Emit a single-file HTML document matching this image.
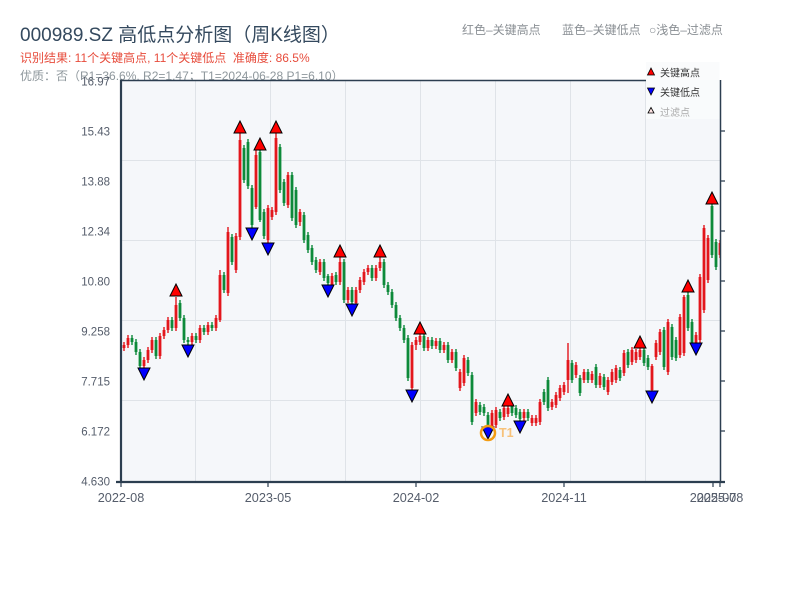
<!DOCTYPE html>
<html><head><meta charset="utf-8"><style>
html,body{margin:0;padding:0;background:#fff;}
svg{display:block;}
text{font-family:"Liberation Sans","Noto Sans CJK SC",sans-serif;}
</style></head><body>
<svg width="800" height="600" viewBox="0 0 800 600" xmlns="http://www.w3.org/2000/svg">
<rect x="0" y="0" width="800" height="600" fill="#fff"/>
<text x="20" y="41" font-size="19" fill="#34495e">000989.SZ 高低点分析图（周K线图）</text>
<text x="20" y="62" font-size="12" fill="#e74c3c">识别结果: 11个关键高点, 11个关键低点&#160;&#160;准确度: 86.5%</text>
<text x="20" y="80" font-size="12" fill="#8e979c">优质：否（R1=36.6%, R2=1.47；T1=2024-06-28 P1=6.10）</text>
<text x="462" y="34" font-size="12" fill="#8a8f94">红色–关键高点</text>
<text x="562" y="34" font-size="12" fill="#8a8f94">蓝色–关键低点</text>
<text x="649" y="34" font-size="12" fill="#8a8f94">○浅色–过滤点</text>

<rect x="121" y="80" width="599" height="402" fill="#f5f7fa"/>
<g stroke="#dfe3e8" stroke-width="1">
<path d="M195.5 80V482M270.5 80V482M345.5 80V482M420.5 80V482M495.5 80V482M570.5 80V482M645.5 80V482"/>
<path d="M121 160.5H720M121 240.5H720M121 320.5H720M121 400.5H720"/>
</g>

<defs><clipPath id="pc"><rect x="122" y="80" width="598" height="401"/></clipPath></defs>
<g clip-path="url(#pc)">
<g transform="translate(2,0)">
<path fill="none" stroke="#e3161c" stroke-width="1.4" d="M122 342V351M126 335V348M142 357V368M146 347V363M150 337V353M158 333V359M162 327V339M166 317V333M174 297V331M190 333V345M198 325V343M206 322V335M214 315V331M218 270V322M226 227V296M234 233V273M238 133V240M254 150V209M266 205V243M270 207V220M274 133V215M286 172V208M298 209V226M318 259V275M330 273V289M338 257V285M346 287V303M354 287V306M358 277V293M362 269V285M366 265V275M374 265V281M378 257V271M410 342V390M414 337V350M418 333V345M426 337V351M434 338V349M442 342V353M450 349V363M458 369V391M462 355V386M474 399V416M490 410V430M494 407V428M502 405V420M506 405V417M522 409V421M530 415V426M534 415V426M538 399V425M550 399V410M554 392V408M558 385V401M562 382V395M566 343V393M574 362V378M582 369V383M590 371V383M598 373V388M606 377V395M610 369V385M614 365V383M622 350V376M630 347V365M634 349V363M638 348V360M650 364V391M654 340V360M658 329V355M666 319V375M678 314V358M682 295V356M694 332V343M698 274V343M702 225V313M706 235V283M718 240V258"/>
<path fill="none" stroke="#e3161c" stroke-width="2.8" d="M122 345V348M126 338V345M142 360V366M146 350V360M150 340V350M158 336V356M162 330V336M166 320V330M174 305V328M190 336V342M198 328V340M206 325V332M214 318V328M218 275V320M226 232V293M234 236V270M238 140V237M254 155V207M266 208V240M270 210V217M274 138V212M286 175V205M298 212V222M318 262V272M330 276V286M338 262V282M346 290V300M354 290V303M358 280V290M362 272V282M366 268V272M374 268V278M378 262V268M410 345V388M414 340V345M418 336V342M426 340V348M434 341V346M442 345V350M450 352V360M458 372V388M462 358V383M474 402V413M490 413V428M494 410V425M502 408V417M506 408V414M522 412V418M530 418V423M534 418V423M538 402V422M550 402V407M554 395V405M558 388V398M562 385V392M566 360V380M574 365V375M582 372V380M590 374V380M598 376V385M606 380V392M610 372V382M614 368V380M622 353V373M630 350V362M634 352V360M638 350V357M650 366V390M654 343V357M658 332V352M666 322V372M678 317V355M682 297V353M694 335V343M698 277V340M702 228V310M706 238V280M718 243V255"/>
<path fill="none" stroke="#0d8a3a" stroke-width="1.4" d="M130 335V345M134 339V355M138 349V369M154 337V359M170 317V331M178 300V321M182 315V343M186 337V345M194 333V343M202 325V335M210 322V331M222 272V293M230 234V265M242 145V183M246 139V189M250 185V228M258 150V222M262 209V239M278 144V193M282 179V206M290 172V221M294 187V228M302 212V243M306 232V253M310 245V265M314 257V273M322 259V281M326 274V285M334 272V285M342 259V303M350 287V304M370 265V281M382 259V288M386 282V295M390 289V308M394 302V321M398 315V331M402 325V343M406 335V381M422 333V351M430 337V349M438 338V353M446 342V363M454 349V371M466 357V376M470 372V425M478 402V415M482 404V416M486 412V427M498 409V421M510 404V416M514 405V418M518 409V421M526 409V421M542 389V405M546 377V411M570 360V383M578 375V396M586 369V383M594 364V388M602 374V390M618 367V381M626 349V368M642 348V366M646 355V370M662 327V370M670 324V360M674 337V361M686 292V331M690 319V345M710 204V258M714 239V270"/>
<path fill="none" stroke="#0d8a3a" stroke-width="2.8" d="M130 338V342M134 342V352M138 352V366M154 340V356M170 320V328M178 303V318M182 318V340M186 340V342M194 336V340M202 328V332M210 325V328M222 275V290M230 237V262M242 148V180M246 142V186M250 188V225M258 152V220M262 212V236M278 147V190M282 182V203M290 175V218M294 190V225M302 215V240M306 235V250M310 248V262M314 260V270M322 262V278M326 276V283M334 275V282M342 262V300M350 290V302M370 268V278M382 262V285M386 285V292M390 292V305M394 305V318M398 318V328M402 328V340M406 338V378M422 336V348M430 340V346M438 341V350M446 345V360M454 352V368M466 360V373M470 375V422M478 405V412M482 407V413M486 415V425M498 412V418M510 406V413M514 408V415M518 412V419M526 412V418M542 392V402M546 380V408M570 363V380M578 378V393M586 372V380M594 367V385M602 377V387M618 370V378M626 352V365M642 350V363M646 358V367M662 330V367M670 327V357M674 340V358M686 295V328M690 322V343M710 206V255M714 242V267"/>
<g fill="#ff0000" stroke="#000" stroke-width="1" stroke-linejoin="miter">
<path d="M168 296H180L174 284Z"/>
<path d="M232 133H244L238 121Z"/>
<path d="M252 150H264L258 138Z"/>
<path d="M268 133H280L274 121Z"/>
<path d="M332 257H344L338 245Z"/>
<path d="M372 257H384L378 245Z"/>
<path d="M412 334H424L418 322Z"/>
<path d="M500 406H512L506 394Z"/>
<path d="M632 348H644L638 336Z"/>
<path d="M680 292H692L686 280Z"/>
<path d="M704 204H716L710 192Z"/>
</g>
<g fill="#0000ff" stroke="#000" stroke-width="1">
<path d="M136 368H148L142 380Z"/>
<path d="M180 345H192L186 357Z"/>
<path d="M244 228H256L250 240Z"/>
<path d="M260 243H272L266 255Z"/>
<path d="M320 285H332L326 297Z"/>
<path d="M344 304H356L350 316Z"/>
<path d="M404 390H416L410 402Z"/>
<path d="M480 427H492L486 439Z"/>
<path d="M512 421H524L518 433Z"/>
<path d="M644 391H656L650 403Z"/>
<path d="M688 343H700L694 355Z"/>
</g>
<circle cx="486" cy="433" r="7" fill="none" stroke="#f39c12" stroke-width="2.5"/>
<text x="497" y="437" font-size="12.5" font-weight="bold" fill="#f7c27a">T1</text>
</g>
</g>

<!-- axes -->
<g stroke="#2c3e50" fill="none">
<path d="M121 80.5H646" stroke-width="1.5"/>
<path d="M720.5 80V483" stroke-width="1.5"/>
<path d="M121 79.5V483" stroke-width="2.2"/>
<path d="M116 482H725" stroke-width="2.2"/>
<path d="M720 131H725M720 181H725M720 231H725M720 281H725M720 331H725M720 381H725M720 431H725" stroke-width="1.2"/>
<path d="M121 482V487M268 482V487M416 482V487M564 482V487M713 482V487M720 482V487" stroke-width="1.2"/>
</g>

<g font-size="11.5" fill="#555d6b" text-anchor="end">
<text x="110" y="85.5">16.97</text>
<text x="110" y="135.5">15.43</text>
<text x="110" y="185.5">13.88</text>
<text x="110" y="235.5">12.34</text>
<text x="110" y="285.5">10.80</text>
<text x="110" y="335.5">9.258</text>
<text x="110" y="385.5">7.715</text>
<text x="110" y="435.5">6.172</text>
<text x="110" y="485.5">4.630</text>
</g>
<g font-size="12.7" fill="#555d6b" text-anchor="middle">
<text x="121" y="502">2022-08</text>
<text x="268" y="502">2023-05</text>
<text x="416" y="502">2024-02</text>
<text x="564" y="502">2024-11</text>
<text x="713" y="502">2025-07</text>
<text x="720" y="502">2025-08</text>
</g>

<!-- legend -->
<rect x="646" y="62" width="73.5" height="57" fill="#fafbfc" fill-opacity="0.9"/>
<path d="M647.5 75H654.5L651 68Z" fill="#ff0000" stroke="#000" stroke-width="0.8"/>
<text x="660" y="76.5" font-size="10" fill="#333">关键高点</text>
<path d="M647.5 88H654.5L651 95Z" fill="#0000ff" stroke="#000" stroke-width="0.8"/>
<text x="660" y="96" font-size="10" fill="#333">关键低点</text>
<path d="M648 113H654L651 107.5Z" fill="#ffe4e4" stroke="#000" stroke-width="0.8"/>
<text x="660" y="116" font-size="10" fill="#aaaaaa">过滤点</text>
</svg>
</body></html>
